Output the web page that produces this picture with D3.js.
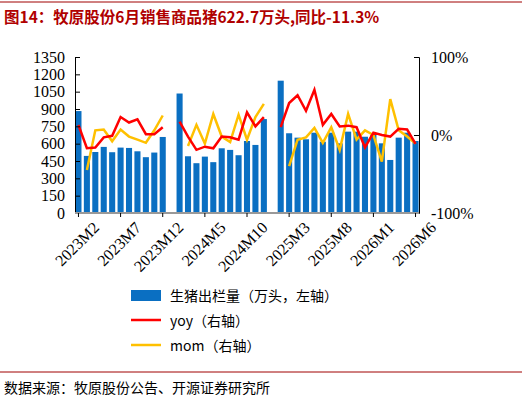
<!DOCTYPE html><html><head><meta charset="utf-8"><script src="https://cdn.jsdelivr.net/npm/d3@7"></script>
<style>body{margin:0;background:#fff}</style></head><body><svg id="c" width="522" height="404"></svg>
<script>
const categories=["2023M2","2023M3","2023M4","2023M5","2023M6","2023M7","2023M8","2023M9","2023M10","2023M11","2023M12","2024M1",
"2024M2","2024M3","2024M4","2024M5","2024M6","2024M7","2024M8","2024M9","2024M10","2024M11","2024M12","2025M1",
"2025M2","2025M3","2025M4","2025M5","2025M6","2025M7","2025M8","2025M9","2025M10","2025M11","2025M12","2026M1","2026M2","2026M3","2026M4","2026M5","2026M6"];
const sales=[882,494,528,572,526,566,563,534,483,523,658,null,
1034,491,431,488,440,560,546,500,623,589,813,null,
1145,690,652,638,695,617,695,603,704,704,660,675,603,459,652,695,623];
const yoy=[12.8,-17,-16,-3,-1,23,16,20,1,1,10,null,
17,-2,-19,-15,-17,-2,-3,-6,29,11,23,null,
10,41,51,31,58,13,27,11,12,10,-16,3,0,-2,8,7,-11.3];
const mom=[null,-45,6,7,-8,7,-2,-6,-10,6,25,null,
null,-14,13,-11,27,-2,-9,26,-6,23,40,null,
null,-40,-6,-3,9,-10,10,-19,27,-6,6,0,-34,46,6,-2,-11];
const leftTicks=[0,150,300,450,600,750,900,1050,1200,1350];
const rightTicks=[-100,0,100];
const xLabels=["2023M2","2023M7","2023M12","2024M5","2024M10","2025M3","2025M8","2026M1","2026M6"];
const svg=d3.select("#c"),F="'Liberation Serif','Times New Roman',serif";
svg.append("line").attr("x1",0).attr("x2",522).attr("y1",2).attr("y2",2).attr("stroke","#a00000").attr("stroke-width",1);
svg.append("text").attr("x",4).attr("y",23).attr("fill","#b00000").attr("font-weight","bold").attr("font-size",15.5)
 .attr("font-family","'Noto Sans CJK SC',serif").text("图14：牧原股份6月销售商品猪622.7万头,同比-11.3%");
const L=75,R=419,T=57,B=213;
const x=d3.scaleBand().domain(categories).range([L,R]).paddingInner(0.28).paddingOuter(0.05);
const y=d3.scaleLinear().domain([0,1350]).range([B,T]);
const y2=d3.scaleLinear().domain([-100,100]).range([B,T]);
svg.append("g").selectAll("rect").data(categories.map((c,i)=>({c,v:sales[i]})).filter(d=>d.v!=null)).join("rect")
 .attr("x",d=>x(d.c)).attr("width",x.bandwidth()).attr("y",d=>y(d.v)).attr("height",d=>B-y(d.v)).attr("fill","#0a6fc2");
const ln=(arr)=>d3.line().defined(d=>d.v!=null).x(d=>x(d.c)+x.bandwidth()/2).y(d=>y2(d.v))(categories.map((c,i)=>({c,v:arr[i]})));
svg.append("path").attr("d",ln(mom)).attr("fill","none").attr("stroke","#ffc000").attr("stroke-width",2.5);
svg.append("path").attr("d",ln(yoy)).attr("fill","none").attr("stroke","#ff0000").attr("stroke-width",2.5);
const ga=svg.append("g").attr("transform",`translate(${L},0)`).call(d3.axisLeft(y).tickValues(leftTicks).tickFormat(d3.format("d")).tickSize(-5).tickPadding(10));
const gr=svg.append("g").attr("transform",`translate(${R},0)`).call(d3.axisRight(y2).tickValues(rightTicks).tickFormat(d=>d+"%").tickSize(-5).tickPadding(12));
const gx=svg.append("g").attr("transform",`translate(0,${B})`).call(d3.axisBottom(x).tickValues(xLabels).tickSize(4).tickPadding(4));
gx.selectAll(".tick text").attr("text-anchor","end").attr("transform","translate(8,2) rotate(-45)");
[ga,gr,gx].forEach(g=>{g.selectAll("text").attr("font-family",F).attr("font-size",16).attr("fill","#000");g.selectAll("line,.domain").attr("stroke","#000");});
gx.select(".domain").attr("d",`M${L},0H${R}`).attr("stroke","#999").attr("stroke-width",2);
const lg=svg.append("g").attr("font-family","'Noto Sans CJK SC',serif").attr("font-size",14);
lg.append("rect").attr("x",131).attr("y",290).attr("width",30).attr("height",11).attr("fill","#0a6fc2");
lg.append("text").attr("x",170).attr("y",301).text("生猪出栏量（万头，左轴）");
lg.append("line").attr("x1",131).attr("x2",161).attr("y1",320).attr("y2",320).attr("stroke","#ff0000").attr("stroke-width",2.5);
lg.append("text").attr("x",170).attr("y",326).text("yoy（右轴）");
lg.append("line").attr("x1",131).attr("x2",161).attr("y1",345).attr("y2",345).attr("stroke","#ffc000").attr("stroke-width",2.5);
lg.append("text").attr("x",170).attr("y",351).text("mom（右轴）");
svg.append("line").attr("x1",0).attr("x2",522).attr("y1",372).attr("y2",372).attr("stroke","#a00000");
svg.append("text").attr("x",4).attr("y",393).attr("font-family","'Noto Sans CJK SC',serif").attr("font-size",14).text("数据来源：牧原股份公告、开源证券研究所");
</script></body></html>
